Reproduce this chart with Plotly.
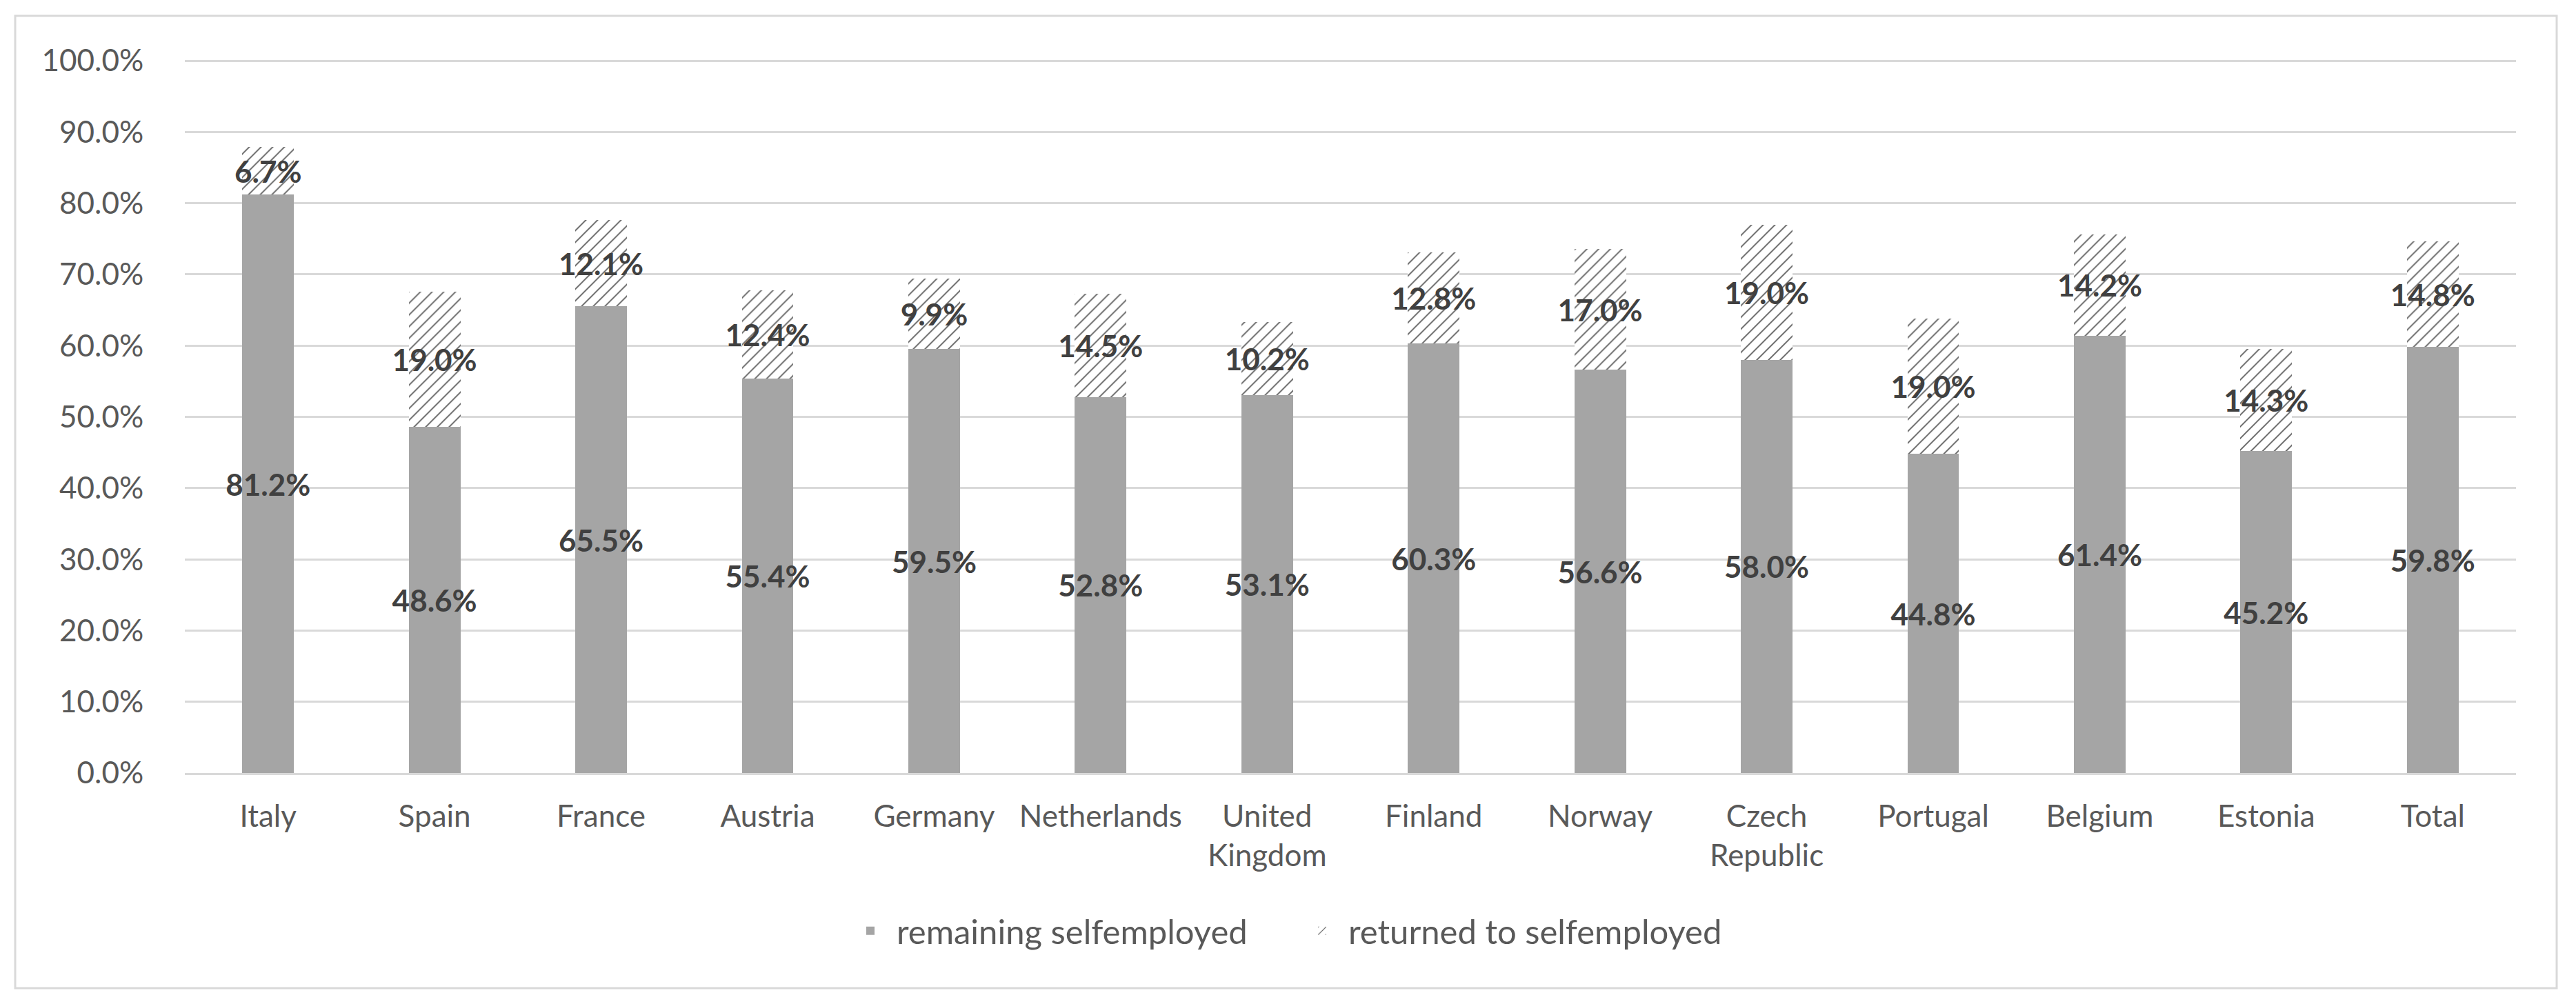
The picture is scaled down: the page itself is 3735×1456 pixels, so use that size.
import plotly.graph_objects as go

countries = ["Italy", "Spain", "France", "Austria", "Germany", "Netherlands",
             "United<br>Kingdom", "Finland", "Norway", "Czech<br>Republic",
             "Portugal", "Belgium", "Estonia", "Total"]
remaining = [81.2, 48.6, 65.5, 55.4, 59.5, 52.8, 53.1, 60.3, 56.6, 58.0, 44.8, 61.4, 45.2, 59.8]
returned = [6.7, 19.0, 12.1, 12.4, 9.9, 14.5, 10.2, 12.8, 17.0, 19.0, 19.0, 14.2, 14.3, 14.8]
y_ticks = [0, 10, 20, 30, 40, 50, 60, 70, 80, 90, 100]

FONT = "Lato"
W, H = 3735, 1456
ML, MR, MT, MB = 268, 87, 86, 335
PW, PH = W - ML - MR, H - MT - MB


def px_to_paper_x(px):
    return (px - ML) / PW


def px_to_paper_y(py):
    return (H - MB - py) / PH


fig = go.Figure()
fig.add_trace(go.Bar(
    x=countries, y=[v / 100 for v in remaining], name="remaining selfemployed",
    marker=dict(color="#A5A5A5", line=dict(width=0)),
    texttemplate="%{y:.1%}", textposition="inside", insidetextanchor="middle",
    textangle=0, constraintext="none",
    textfont=dict(family=FONT, size=44, color="#404040", weight="bold"),
))
fig.add_trace(go.Bar(
    x=countries, y=[v / 100 for v in returned], name="returned to selfemployed",
    marker=dict(color="white", line=dict(width=0),
                pattern=dict(shape="/", fgcolor="#595959", bgcolor="white",
                             size=12, solidity=0.14, fillmode="replace")),
    texttemplate="%{y:.1%}", textposition="inside", insidetextanchor="middle",
    textangle=0, constraintext="none",
    textfont=dict(family=FONT, size=44, color="#404040", weight="bold"),
))

fig.update_layout(
    width=W, height=H, barmode="stack", bargap=0.69,
    margin=dict(l=ML, r=MR, t=MT, b=MB),
    paper_bgcolor="white", plot_bgcolor="white",
    font=dict(family=FONT, size=44, color="#595959"),
    legend=dict(orientation="h", x=px_to_paper_x(1879), xanchor="center",
                y=px_to_paper_y(1350), yanchor="middle",
                font=dict(family=FONT, size=49, color="#595959"),
                itemwidth=66,
                entrywidth=574, entrywidthmode="pixels",
                traceorder="normal"),
    shapes=[dict(type="rect", xref="paper", yref="paper",
                 x0=px_to_paper_x(22), x1=px_to_paper_x(3707),
                 y0=px_to_paper_y(1433), y1=px_to_paper_y(23),
                 line=dict(color="#D9D9D9", width=3), fillcolor="rgba(0,0,0,0)",
                 layer="below")],
)
fig.update_xaxes(showgrid=False, showline=True, linecolor="#D9D9D9", linewidth=3,
                 ticks="outside", ticklen=22, tickcolor="rgba(0,0,0,0)",
                 tickfont=dict(family=FONT, size=44, color="#595959"))
fig.update_yaxes(range=[0, 1.002], tickvals=[t / 100 for t in y_ticks], tickformat=".1%",
                 showgrid=True, gridcolor="#D9D9D9", gridwidth=3, zeroline=False,
                 ticks="outside", ticklen=50, tickcolor="rgba(0,0,0,0)",
                 tickfont=dict(family=FONT, size=44, color="#595959"))

fig.write_html("out.html", config={"displayModeBar": False},
               post_script="document.body.style.margin='0';document.body.style.overflow='hidden';")
